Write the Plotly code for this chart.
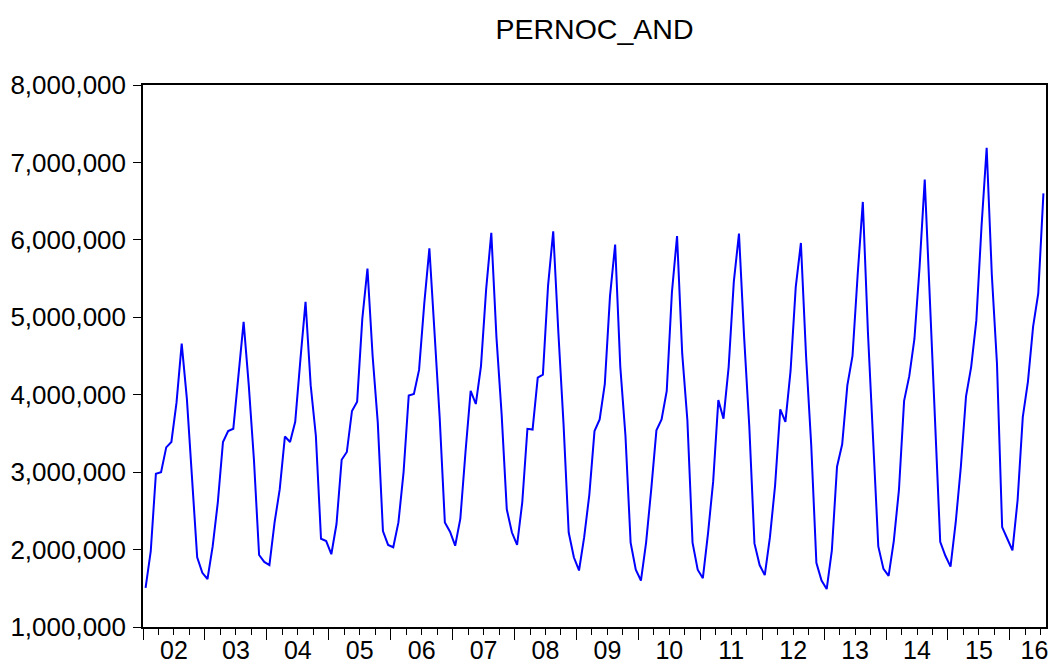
import plotly.graph_objects as go

# Monthly values, Jan 2002 .. Jul 2016 (persons)
v2002 = [1505000, 1978000, 2980000, 3000000, 3320000, 3390000, 3900000, 4660000, 3950000, 2950000, 1900000, 1700000]
v2003 = [1620000, 2040000, 2610000, 3390000, 3530000, 3560000, 4260000, 4940000, 4120000, 3160000, 1930000, 1840000]
v2004 = [1800000, 2350000, 2780000, 3460000, 3390000, 3650000, 4450000, 5200000, 4120000, 3470000, 2140000, 2110000]
v2005 = [1940000, 2330000, 3160000, 3260000, 3790000, 3910000, 4980000, 5630000, 4500000, 3640000, 2240000, 2060000]
v2006 = [2030000, 2350000, 3000000, 3990000, 4010000, 4320000, 5170000, 5890000, 4800000, 3700000, 2350000, 2230000]
v2007 = [2050000, 2400000, 3260000, 4050000, 3880000, 4370000, 5360000, 6090000, 4740000, 3750000, 2520000, 2220000]
v2008 = [2060000, 2610000, 3560000, 3550000, 4220000, 4260000, 5410000, 6110000, 4800000, 3620000, 2220000, 1900000]
v2009 = [1730000, 2160000, 2710000, 3530000, 3680000, 4140000, 5270000, 5940000, 4360000, 3470000, 2090000, 1740000]
v2010 = [1600000, 2090000, 2780000, 3540000, 3680000, 4050000, 5320000, 6050000, 4530000, 3670000, 2090000, 1740000]
v2011 = [1630000, 2210000, 2880000, 3930000, 3690000, 4360000, 5460000, 6080000, 4740000, 3590000, 2080000, 1800000]
v2012 = [1670000, 2160000, 2830000, 3810000, 3650000, 4310000, 5390000, 5960000, 4500000, 3350000, 1830000, 1600000]
v2013 = [1490000, 1990000, 3070000, 3360000, 4120000, 4500000, 5550000, 6490000, 4790000, 3400000, 2040000, 1750000]
v2014 = [1660000, 2110000, 2770000, 3920000, 4240000, 4720000, 5650000, 6780000, 5170000, 3750000, 2100000, 1920000]
v2015 = [1780000, 2350000, 3070000, 3980000, 4360000, 4960000, 6170000, 7190000, 5550000, 4400000, 2290000, 2140000]
v2016 = [1990000, 2640000, 3710000, 4170000, 4880000, 5310000, 6600000]

year_labels = ["02", "03", "04", "05", "06", "07", "08", "09", "10", "11", "12", "13", "14", "15", "16"]

values = (v2002 + v2003 + v2004 + v2005 + v2006 + v2007 + v2008 + v2009 + v2010
          + v2011 + v2012 + v2013 + v2014 + v2015 + v2016)
months = list(range(len(values)))  # month index, 0 = Jan 2002

n = len(values)
year_bounds = [12 * k - 0.5 for k in range(len(year_labels))]
label_pos = [12 * k + 5.5 for k in range(len(year_labels) - 1)]
label_pos.append(year_bounds[-1] + (n - 1 - year_bounds[-1]) / 2 + 1.5)

FONT = "Liberation Sans, Arial, sans-serif"

fig = go.Figure()
fig.add_trace(go.Scatter(x=months, y=values, mode="lines",
                         line=dict(color="#0000FF", width=2),
                         showlegend=False, hoverinfo="skip"))
# carrier trace for the label axis
fig.add_trace(go.Scatter(x=[months[0]], y=[values[0]], xaxis="x2", mode="markers",
                         marker=dict(opacity=0), showlegend=False, hoverinfo="skip"))

xr = [-0.5, n - 0.5]
fig.update_layout(
    width=1051, height=664,
    margin=dict(l=143, r=5, t=85, b=37, autoexpand=False),
    paper_bgcolor="white", plot_bgcolor="white",
    font=dict(family=FONT, size=26, color="black"),
    title=dict(text="PERNOC_AND", x=(143 + 1046) / 2 / 1051, xanchor="center",
               y=1 - 29 / 664, yanchor="middle", font=dict(size=28.5, family=FONT, color="black")),
    xaxis=dict(range=xr, tickmode="array", tickvals=year_bounds, showticklabels=False,
               ticks="outside", ticklen=11, tickwidth=1.3, tickcolor="black",
               minor=dict(tickmode="linear", tick0=-0.5, dtick=3, ticks="outside",
                          ticklen=6, tickwidth=1.2, tickcolor="black"),
               showline=True, linecolor="black", linewidth=1.5, mirror=True,
               showgrid=False, zeroline=False, automargin=False),
    xaxis2=dict(range=xr, overlaying="x", anchor="y", side="bottom",
                tickmode="array", tickvals=label_pos, ticktext=year_labels,
                ticks="", showline=False, showgrid=False, zeroline=False, automargin=False,
                ticklabelstandoff=6, tickfont=dict(size=25, family=FONT, color="black")),
    yaxis=dict(range=[1000000, 8000000], tickmode="linear", tick0=1000000, dtick=1000000,
               tickformat=",d", ticks="outside", ticklen=8, tickwidth=1.3, tickcolor="black",
               showline=True, linecolor="black", linewidth=1.5, mirror=True,
               showgrid=False, zeroline=False, automargin=False, ticklabelstandoff=2),
)

fig.write_html("out.html")
